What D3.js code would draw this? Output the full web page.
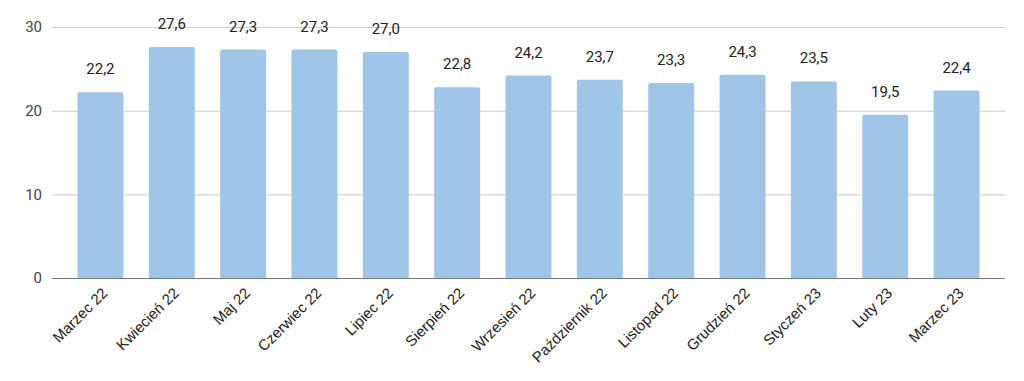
<!DOCTYPE html>
<meta charset="utf-8">
<script src="https://d3js.org/d3.v7.min.js"></script>
<style>
body { margin: 0; background: #fff; }
text { font-family: Roboto, "Noto Sans", sans-serif; }
.grid line { stroke: #cccccc; stroke-width: 1px; }
.tick-label { fill: #444; font-size: 15px; }
.x-label { fill: #222; font-size: 15px; font-family: "Liberation Sans", Arial, sans-serif; }
.value { fill: #222; font-size: 15px; }
</style>
<body>
<script>

var months = ["Marzec 22", "Kwiecień 22", "Maj 22", "Czerwiec 22", "Lipiec 22", "Sierpień 22",
  "Wrzesień 22", "Październik 22", "Listopad 22", "Grudzień 22", "Styczeń 23", "Luty 23", "Marzec 23"];
var values = [22.2, 27.6, 27.3, 27.3, 27.0, 22.8, 24.2, 23.7, 23.3, 24.3, 23.5, 19.5, 22.4];
var yTicks = [0, 10, 20, 30];

var width = 1024,
    height = 381;

var svg = d3.select("body").append("svg")
    .attr("width", width)
    .attr("height", height);

var x = d3.scaleBand()
    .domain(months)
    .range([52, 1005])
    .paddingInner(0.356)
    .paddingOuter(0.357);

var y = d3.scaleLinear()
    .domain([0, 30])
    .range([278, 27]);

// gridlines
var grid = svg.append("g").attr("class", "grid");
grid.selectAll("line")
    .data(yTicks.filter(function(d) { return d > 0; }))
  .enter().append("line")
    .attr("x1", 52)
    .attr("x2", 1005)
    .attr("y1", function(d) { return y(d) + 0.5; })
    .attr("y2", function(d) { return y(d) + 0.5; });

svg.selectAll(".tick-label")
    .data(yTicks)
  .enter().append("text")
    .attr("class", "tick-label")
    .attr("x", 42)
    .attr("y", function(d) { return y(d); })
    .attr("dy", "0.35em")
    .attr("text-anchor", "end")
    .text(function(d) { return d; });

// bars with slightly rounded tops
function barPath(d, i) {
  var x0 = x(months[i]), w = x.bandwidth(), y0 = y(0), y1 = y(d), r = 2;
  return "M" + x0 + "," + y0 +
    "V" + (y1 + r) +
    "Q" + x0 + "," + y1 + " " + (x0 + r) + "," + y1 +
    "H" + (x0 + w - r) +
    "Q" + (x0 + w) + "," + y1 + " " + (x0 + w) + "," + (y1 + r) +
    "V" + y0 + "Z";
}

svg.append("g").selectAll("path")
    .data(values)
  .enter().append("path")
    .attr("d", barPath)
    .attr("fill", "#9fc5e8");

// baseline
svg.append("line")
    .attr("x1", 52)
    .attr("x2", 1005)
    .attr("y1", y(0) + 0.5)
    .attr("y2", y(0) + 0.5)
    .attr("stroke", "#777")
    .attr("stroke-width", 1.2);

// value labels
svg.append("g").selectAll("text")
    .data(values)
  .enter().append("text")
    .attr("class", "value")
    .attr("x", function(d, i) { return x(months[i]) + x.bandwidth() / 2; })
    .attr("y", function(d) { return y(d) - 18; })
    .attr("text-anchor", "middle")
    .text(function(d) { return d.toFixed(1).replace(".", ","); });

// x labels
svg.append("g").selectAll("text")
    .data(months)
  .enter().append("text")
    .attr("class", "x-label")
    .attr("text-anchor", "end")
    .attr("transform", function(d) {
      return "translate(" + (x(d) + x.bandwidth() / 2 + 8) + ",294) rotate(-45)";
    })
    .text(function(d) { return d; });

</script>
</body>
</html>
